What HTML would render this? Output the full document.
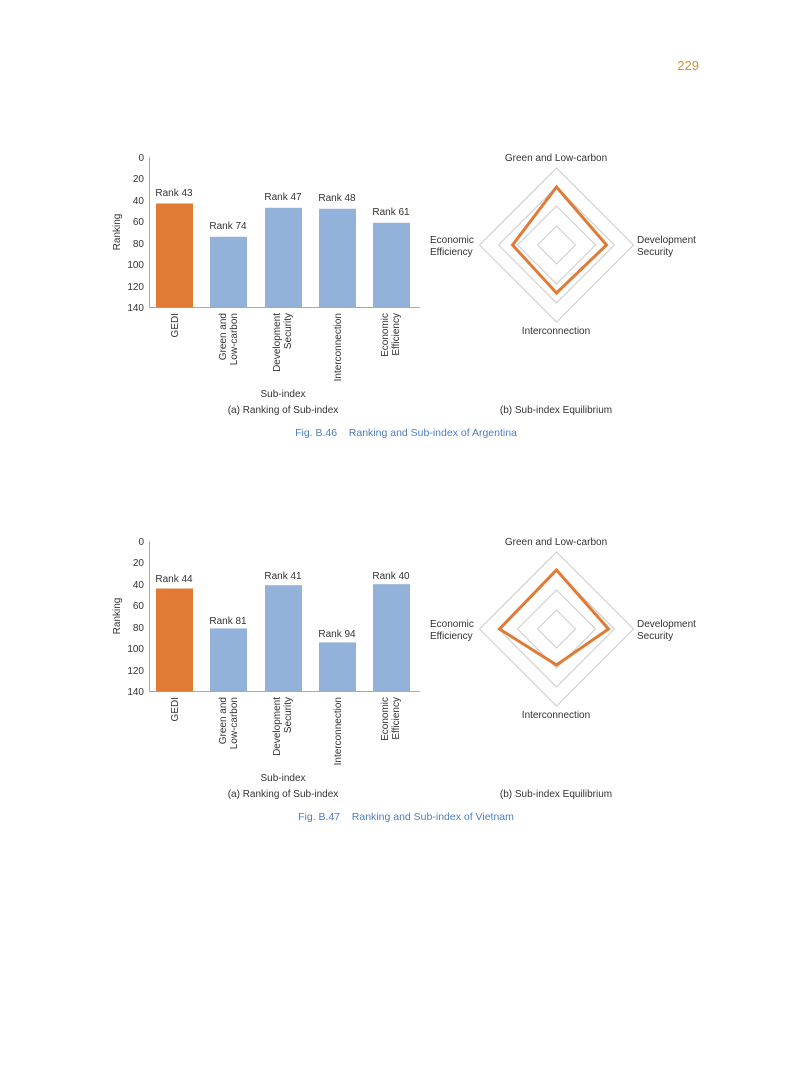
<!DOCTYPE html>
<html><head><meta charset="utf-8"><style>
html,body{margin:0;padding:0;background:#fff}
svg{display:block}
text{font-family:"Liberation Sans",sans-serif;fill:#333}
</style></head><body>
<svg width="793" height="1077" viewBox="0 0 793 1077" xmlns="http://www.w3.org/2000/svg">
<text x="699" y="70" text-anchor="end" font-size="13" style="fill:#c9943a">229</text>

<g id="c1">
<line x1="149.5" y1="157" x2="149.5" y2="308" stroke="#aaa"/>
<line x1="149.5" y1="307.5" x2="420" y2="307.5" stroke="#aaa"/>
<g font-size="10" text-anchor="end">
<text x="144" y="161">0</text><text x="144" y="182">20</text><text x="144" y="204">40</text><text x="144" y="225">60</text><text x="144" y="247">80</text><text x="144" y="268">100</text><text x="144" y="290">120</text><text x="144" y="311">140</text>
</g>
<text transform="translate(120,232) rotate(-90)" font-size="10" text-anchor="middle">Ranking</text>
<rect x="156" y="203.5" width="37" height="104" fill="#e07a35"/>
<rect x="210" y="236.8" width="37" height="70.7" fill="#93b2da"/>
<rect x="265" y="207.8" width="37" height="99.7" fill="#93b2da"/>
<rect x="319" y="208.8" width="37" height="98.7" fill="#93b2da"/>
<rect x="373" y="222.8" width="37" height="84.7" fill="#93b2da"/>
<g font-size="10" text-anchor="middle">
<text x="174" y="196">Rank 43</text><text x="228" y="229">Rank 74</text><text x="283" y="200">Rank 47</text><text x="337" y="201">Rank 48</text><text x="391" y="215">Rank 61</text>
</g>
<g font-size="10" text-anchor="end">
<text transform="translate(178,313) rotate(-90)">GEDI</text>
<text transform="translate(226,313) rotate(-90)">Green and</text>
<text transform="translate(237,313) rotate(-90)">Low-carbon</text>
<text transform="translate(280,313) rotate(-90)">Development</text>
<text transform="translate(291,313) rotate(-90)">Security</text>
<text transform="translate(341,313) rotate(-90)">Interconnection</text>
<text transform="translate(388,313) rotate(-90)">Economic</text>
<text transform="translate(399,313) rotate(-90)">Efficiency</text>
</g>
<text x="283" y="397" font-size="10" text-anchor="middle">Sub-index</text>
<text x="283" y="413" font-size="10" text-anchor="middle">(a) Ranking of Sub-index</text>
<g fill="none" stroke="#ccc" stroke-width="1">
<polygon points="556.5,168 633.5,245 556.5,322 479.5,245"/>
<polygon points="556.5,187 614.5,245 556.5,303 498.5,245"/>
<polygon points="556.5,206 595.5,245 556.5,284 517.5,245"/>
<polygon points="556.5,226 575.5,245 556.5,264 537.5,245"/>
</g>
<polygon points="556.5,187 606.5,245 556.5,293 512.5,245" fill="none" stroke="#e07a35" stroke-width="3"/>
<text x="556" y="161" font-size="10" text-anchor="middle">Green and Low-carbon</text>
<text x="556" y="334" font-size="10" text-anchor="middle">Interconnection</text>
<text x="430" y="243" font-size="10">Economic</text><text x="430" y="255" font-size="10">Efficiency</text>
<text x="637" y="243" font-size="10">Development</text><text x="637" y="255" font-size="10">Security</text>
<text x="556" y="413" font-size="10" text-anchor="middle">(b) Sub-index Equilibrium</text>
<text x="406" y="436" font-size="10.5" text-anchor="middle" style="fill:#4a7fc1">Fig. B.46&#160;&#160;&#160;&#160;Ranking and Sub-index of Argentina</text>
</g>

<g>
<line x1="149.5" y1="541" x2="149.5" y2="692" stroke="#aaa"/>
<line x1="149.5" y1="691.5" x2="420" y2="691.5" stroke="#aaa"/>
<g font-size="10" text-anchor="end">
<text x="144" y="545">0</text><text x="144" y="566">20</text><text x="144" y="588">40</text><text x="144" y="609">60</text><text x="144" y="631">80</text><text x="144" y="652">100</text><text x="144" y="674">120</text><text x="144" y="695">140</text>
</g>
<text transform="translate(120,616) rotate(-90)" font-size="10" text-anchor="middle">Ranking</text>
<rect x="156" y="588.5" width="37" height="103" fill="#e07a35"/>
<rect x="210" y="628.4" width="37" height="63.1" fill="#93b2da"/>
<rect x="265" y="585.2" width="37" height="106.3" fill="#93b2da"/>
<rect x="319" y="642.4" width="37" height="49.1" fill="#93b2da"/>
<rect x="373" y="584.2" width="37" height="107.3" fill="#93b2da"/>
<g font-size="10" text-anchor="middle">
<text x="174" y="582">Rank 44</text><text x="228" y="624">Rank 81</text><text x="283" y="579">Rank 41</text><text x="337" y="637">Rank 94</text><text x="391" y="579">Rank 40</text>
</g>
<g font-size="10" text-anchor="end">
<text transform="translate(178,697) rotate(-90)">GEDI</text>
<text transform="translate(226,697) rotate(-90)">Green and</text>
<text transform="translate(237,697) rotate(-90)">Low-carbon</text>
<text transform="translate(280,697) rotate(-90)">Development</text>
<text transform="translate(291,697) rotate(-90)">Security</text>
<text transform="translate(341,697) rotate(-90)">Interconnection</text>
<text transform="translate(388,697) rotate(-90)">Economic</text>
<text transform="translate(399,697) rotate(-90)">Efficiency</text>
</g>
<text x="283" y="781" font-size="10" text-anchor="middle">Sub-index</text>
<text x="283" y="797" font-size="10" text-anchor="middle">(a) Ranking of Sub-index</text>
<g fill="none" stroke="#ccc" stroke-width="1">
<polygon points="556.5,552 633.5,629 556.5,706 479.5,629"/>
<polygon points="556.5,571 614.5,629 556.5,687 498.5,629"/>
<polygon points="556.5,590 595.5,629 556.5,668 517.5,629"/>
<polygon points="556.5,610 575.5,629 556.5,648 537.5,629"/>
</g>
<polygon points="556.5,570 608.5,629 556.5,665 499.5,629" fill="none" stroke="#e07a35" stroke-width="3"/>
<text x="556" y="545" font-size="10" text-anchor="middle">Green and Low-carbon</text>
<text x="556" y="718" font-size="10" text-anchor="middle">Interconnection</text>
<text x="430" y="627" font-size="10">Economic</text><text x="430" y="639" font-size="10">Efficiency</text>
<text x="637" y="627" font-size="10">Development</text><text x="637" y="639" font-size="10">Security</text>
<text x="556" y="797" font-size="10" text-anchor="middle">(b) Sub-index Equilibrium</text>
<text x="406" y="820" font-size="10.5" text-anchor="middle" style="fill:#4a7fc1">Fig. B.47&#160;&#160;&#160;&#160;Ranking and Sub-index of Vietnam</text>
</g>
</svg>
</body></html>
